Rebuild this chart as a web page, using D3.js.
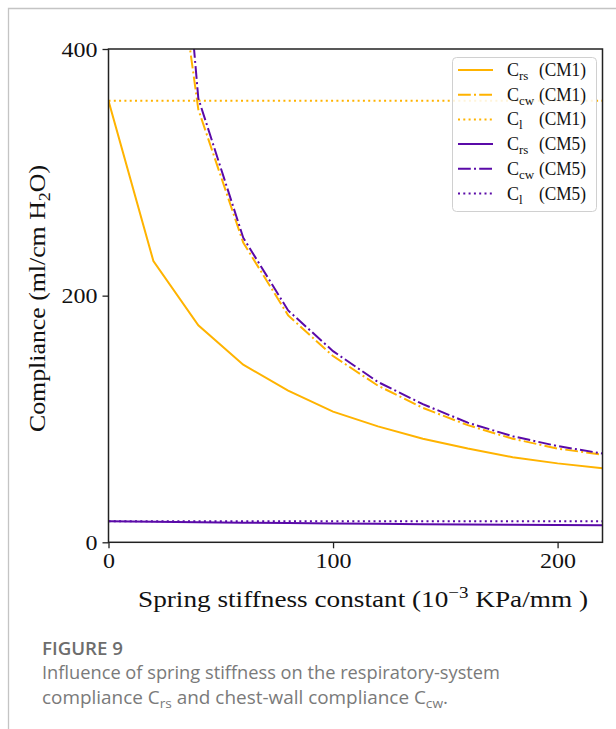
<!DOCTYPE html>
<html>
<head>
<meta charset="utf-8">
<script src="https://cdn.jsdelivr.net/npm/d3@7"></script>
<style>
  body { margin: 0; background: #fff; }
  svg { display: block; }
</style>
</head>
<body>
<svg id="chart" width="616" height="729"></svg>
<script>
// spring stiffness (10^-3 KPa/mm)
let stiffness = [0, 20, 40, 60, 80, 100, 120, 140, 160, 180, 200, 220]
let stiffnessCw = [20, 40, 60, 80, 100, 120, 140, 160, 180, 200, 220]

let crsCM1 = [358, 228, 176, 144, 123, 106, 94, 84, 76, 69, 64, 60]
let ccwCM1 = [616, 351, 243, 184, 151, 127, 109, 95, 84, 76, 71]
let clCM1 = [358, 358, 358, 358, 358, 358, 358, 358, 358, 358, 358, 358]
let crsCM5 = [17, 16.6, 16.3, 15.9, 15.6, 15.3, 15.0, 14.7, 14.5, 14.3, 14.0, 13.8]
let ccwCM5 = [780, 360, 247, 188, 155, 130, 112, 97, 86, 78, 72]
let clCM5 = [17, 17, 17, 17, 17, 17, 17, 17, 17, 17, 17, 17]

let xTicks = [0, 100, 200]
let yTicks = [0, 200, 400]

let legendNames = [["rs", "(CM1)"], ["cw", "(CM1)"], ["l", "(CM1)"],
                   ["rs", "(CM5)"], ["cw", "(CM5)"], ["l", "(CM5)"]]

const orange = "#ffb300"
const purple = "#5a0aa8"
const serif = "'Liberation Serif', 'DejaVu Serif', serif"

let svg = d3.select("#chart")

// page frame
svg.append("path").attr("d", "M8.5,729 V8.5 H616").attr("fill", "none")
   .attr("stroke", "#c4c4c4").attr("stroke-width", 1.3)

const margin = { left: 108.5, top: 49, right: 13.5, bottom: 186.7 }
const width = 616, height = 729

let xScale = d3.scaleLinear().domain([0, 220]).range([margin.left, width - margin.right])
let yScale = d3.scaleLinear().domain([0, 400]).range([height - margin.bottom, margin.top])

svg.append("defs").append("clipPath").attr("id", "plotclip")
   .append("rect")
   .attr("x", xScale(0)).attr("y", yScale(400))
   .attr("width", xScale(220) - xScale(0)).attr("height", yScale(0) - yScale(400))

let series = [
  { xs: stiffness, ys: crsCM1, color: orange, dash: null },
  { xs: stiffnessCw, ys: ccwCM1, color: orange, dash: "12.8,3.2,2,3.2" },
  { xs: stiffness, ys: clCM1, color: orange, dash: "2,3.3" },
  { xs: stiffness, ys: crsCM5, color: purple, dash: null },
  { xs: stiffnessCw, ys: ccwCM5, color: purple, dash: "12.8,3.2,2,3.2" },
  { xs: stiffness, ys: clCM5, color: purple, dash: "2,3.3" }
]

let line = d3.line().x(d => xScale(d[0])).y(d => yScale(d[1]))

let plot = svg.append("g").attr("clip-path", "url(#plotclip)")
series.forEach(s => {
  plot.append("path")
    .datum(s.xs.map((x, i) => [x, s.ys[i]]))
    .attr("d", line)
    .attr("fill", "none")
    .attr("stroke", s.color)
    .attr("stroke-width", 2)
    .attr("stroke-dasharray", s.dash)
})

// axes
let xAxis = svg.append("g")
  .attr("transform", `translate(0,${yScale(0)})`)
  .call(d3.axisBottom(xScale).tickValues(xTicks).tickSize(6).tickPadding(4))
let yAxis = svg.append("g")
  .attr("transform", `translate(${xScale(0)},0)`)
  .call(d3.axisLeft(yScale).tickValues(yTicks).tickSize(6).tickPadding(5))

;[xAxis, yAxis].forEach(a => {
  a.select(".domain").remove()
  a.selectAll("line").attr("stroke", "#222").attr("stroke-width", 1.3)
  a.selectAll("text").attr("font-family", serif).attr("font-size", 22).attr("fill", "#111")
    .attr("textLength", d => String(d).length * 12).attr("lengthAdjust", "spacingAndGlyphs")
})

// box spines
svg.append("rect")
  .attr("x", xScale(0)).attr("y", yScale(400))
  .attr("width", xScale(220) - xScale(0)).attr("height", yScale(0) - yScale(400))
  .attr("fill", "none").attr("stroke", "#222").attr("stroke-width", 1.5)

// axis labels
let xl = svg.append("text")
  .attr("x", 138).attr("y", 607)
  .attr("font-family", serif).attr("font-size", 23).attr("fill", "#111")
  .attr("textLength", 450).attr("lengthAdjust", "spacingAndGlyphs")
xl.append("tspan").text("Spring stiffness constant (10")
xl.append("tspan").attr("dy", -9).attr("font-size", 16).text("\u22123")
xl.append("tspan").attr("dy", 9).text(" KPa/mm )")

let yl = svg.append("text")
  .attr("transform", `translate(45,432) rotate(-90)`)
  .attr("font-family", serif).attr("font-size", 23).attr("fill", "#111")
  .attr("textLength", 267).attr("lengthAdjust", "spacingAndGlyphs")
yl.append("tspan").text("Compliance (ml/cm H")
yl.append("tspan").attr("dy", 5).attr("font-size", 16).text("2")
yl.append("tspan").attr("dy", -5).text("O)")

// legend
let lg = svg.append("g")
lg.append("rect")
  .attr("x", 452.5).attr("y", 57.5).attr("width", 144).attr("height", 154)
  .attr("rx", 4).attr("fill", "#fff").attr("fill-opacity", 0.85)
  .attr("stroke", "#d0d0d0").attr("stroke-width", 1)

legendNames.forEach((n, i) => {
  let y = 70 + i * 24.7
  let s = series[i]
  lg.append("line")
    .attr("x1", 458).attr("x2", 493).attr("y1", y).attr("y2", y)
    .attr("stroke", s.color).attr("stroke-width", 2).attr("stroke-dasharray", s.dash)
  let t = lg.append("text").attr("x", 507).attr("y", y + 6)
    .attr("font-family", serif).attr("font-size", 18).attr("fill", "#111")
  t.append("tspan").text("C")
  t.append("tspan").attr("dy", 4).attr("font-size", 13).text(n[0])
  lg.append("text").attr("x", 539).attr("y", y + 6)
    .attr("font-family", serif).attr("font-size", 18).attr("fill", "#111")
    .attr("textLength", 47).attr("lengthAdjust", "spacingAndGlyphs").text(n[1])
})

// caption
const sans = "'Open Sans', 'Noto Sans', sans-serif"
svg.append("text").attr("x", 42).attr("y", 655)
  .attr("font-family", sans).attr("font-size", 18).attr("font-weight", 600)
  .attr("fill", "#6d6d6d").attr("textLength", 81).attr("lengthAdjust", "spacingAndGlyphs")
  .text("FIGURE 9")
svg.append("text").attr("x", 42).attr("y", 679)
  .attr("font-family", sans).attr("font-size", 18).attr("fill", "#7a7a7a")
  .attr("textLength", 458).attr("lengthAdjust", "spacingAndGlyphs")
  .text("Influence of spring stiffness on the respiratory-system")
let cap = svg.append("text").attr("x", 42).attr("y", 704)
  .attr("font-family", sans).attr("font-size", 18).attr("fill", "#7a7a7a")
  .attr("textLength", 406).attr("lengthAdjust", "spacingAndGlyphs")
cap.append("tspan").text("compliance C")
cap.append("tspan").attr("dy", 4).attr("font-size", 13).text("rs")
cap.append("tspan").attr("dy", -4).text(" and chest-wall compliance C")
cap.append("tspan").attr("dy", 4).attr("font-size", 13).text("cw")
cap.append("tspan").attr("dy", -4).text(".")
</script>
</body>
</html>
